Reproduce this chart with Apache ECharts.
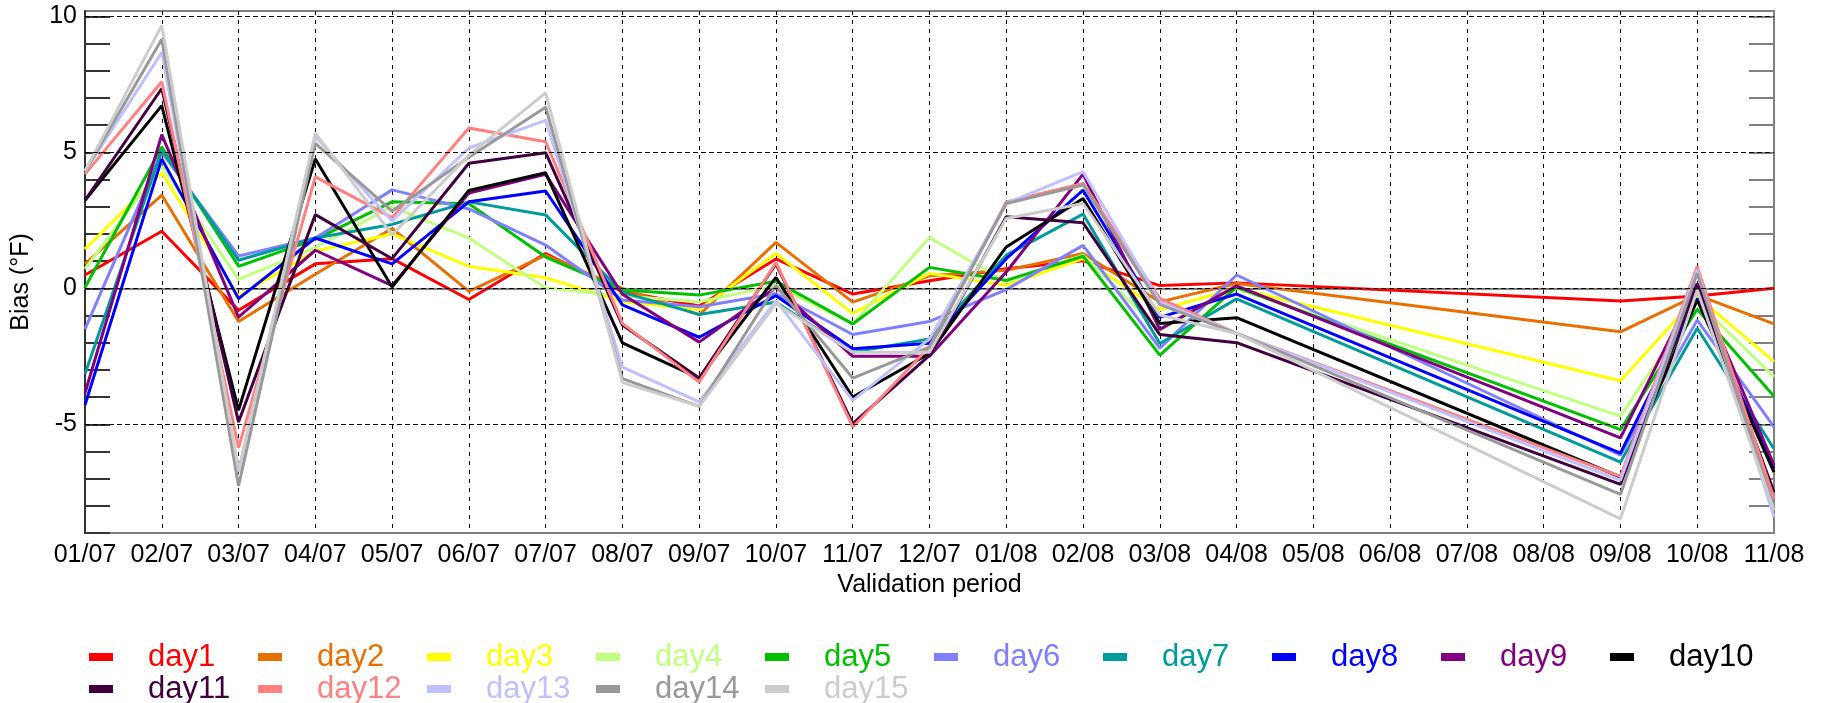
<!DOCTYPE html>
<html>
<head>
<meta charset="utf-8">
<script src="https://cdn.jsdelivr.net/npm/echarts@6/dist/echarts.min.js"></script>
<style>
html,body{margin:0;padding:0;background:#fff;}
#chart{width:1828px;height:703px;}
</style>
</head>
<body>
<div id="chart"></div>
<script>
const categories = ['01/07','02/07','03/07','04/07','05/07','06/07','07/07','08/07','09/07','10/07','11/07','12/07',
  '01/08','02/08','03/08','04/08','05/08','06/08','07/08','08/08','09/08','10/08','11/08'];
const seriesNames = ['day1','day2','day3','day4','day5','day6','day7','day8','day9','day10','day11','day12','day13','day14','day15'];
const seriesColors = ['#ff0000','#e87000','#ffff00','#c0ff80','#00c000','#8080ff','#009b9b','#0000ff','#800080','#000000','#400040','#ff8080','#c0c0ff','#999999','#cccccc'];
const n = null;
const day1  = [0.49, 2.10, -0.81, 0.90, 1.09, -0.41, 1.28, -0.12, -0.65, 1.08, -0.21, 0.28, 0.72, 1.01, 0.10, 0.20, n, n, n, n, -0.47, -0.28, 0.00];
const day2  = [0.90, 3.43, -1.22, 0.52, 2.20, -0.11, 1.22, 0.00, -0.98, 1.69, -0.51, 0.46, 0.66, 1.28, -0.50, 0.18, n, n, n, n, -1.60, -0.25, -1.31];
const day3  = [1.44, 4.25, -0.28, 1.37, 2.00, 0.81, 0.39, -0.49, -0.78, 1.28, -0.92, 0.55, 0.11, 1.09, -0.79, 0.00, n, n, n, n, -3.40, -0.30, -2.70];
const day4  = [0.71, 4.50, 0.33, 1.50, 3.00, 1.85, 0.01, -0.27, -0.50, 0.10, -1.31, 1.87, 0.23, 1.22, -1.55, 0.00, n, n, n, n, -4.70, -0.50, -3.26];
const day5  = [0.03, 5.20, 0.81, 1.80, 3.18, 3.11, 1.15, -0.06, -0.25, 0.26, -1.31, 0.77, 0.29, 1.18, -2.46, 0.04, n, n, n, n, -5.20, -0.77, -3.97];
const day6  = [-1.50, 5.00, 1.19, 1.85, 3.62, 2.92, 1.59, -0.43, -0.68, -0.20, -1.70, -1.22, -0.05, 1.58, -2.20, 0.49, n, n, n, n, -6.14, -1.17, -5.10];
const day7  = [-3.15, 5.08, 1.03, 1.85, 2.35, 3.18, 2.70, -0.15, -0.96, -0.51, -2.35, -1.86, 1.22, 2.73, -2.03, -0.39, n, n, n, n, -6.39, -1.47, -5.90];
const day8  = [-4.29, 4.76, -0.38, 1.85, 0.90, 3.18, 3.58, -0.61, -1.80, -0.27, -2.22, -2.02, 1.09, 3.61, -1.07, -0.21, n, n, n, n, -6.06, -0.37, -6.63];
const day9  = [-3.85, 5.65, -1.06, 1.40, 0.10, 3.50, 4.19, -0.22, -1.98, 0.04, -2.50, -2.50, 0.60, 4.20, -1.51, 0.09, n, n, n, n, -5.50, 0.18, -6.50];
const day10 = [3.24, 6.72, -4.48, 4.76, 0.05, 3.60, 4.25, -2.01, -3.30, 0.40, -4.00, -2.40, 1.52, 3.30, -1.29, -1.08, n, n, n, n, -6.94, -0.43, -6.76];
const day11 = [3.24, 7.35, -4.92, 2.71, 1.09, 4.60, 4.99, -1.35, -3.30, 0.90, -4.98, -2.47, 2.63, 2.41, -1.70, -2.00, n, n, n, n, -7.21, 0.12, -7.49];
const day12 = [4.20, 7.60, -5.87, 4.10, 2.60, 5.90, 5.39, -1.29, -3.45, 0.95, -5.10, -2.16, 3.18, 3.86, -0.37, -1.66, n, n, n, n, -6.92, 0.80, -7.74];
const day13 = [4.30, 8.68, -6.76, 5.58, 2.48, 5.16, 6.18, -2.90, -4.18, -0.45, -4.12, -1.86, 3.12, 4.29, -0.50, -1.66, n, n, n, n, -7.06, 0.68, -8.42];
const day14 = [4.30, 9.16, -7.27, 5.33, 2.84, 4.82, 6.66, -3.32, -4.34, 0.10, -3.30, -2.16, 3.12, 3.80, -0.60, -1.66, n, n, n, n, -7.58, 0.55, -8.05];
const day15 = [4.32, 9.67, -6.70, 5.71, 1.97, 4.90, 7.19, -3.47, -4.34, -0.57, -2.35, -2.35, 2.57, 3.12, -0.98, -1.66, n, n, n, n, -8.48, -0.06, -8.17];
const seriesData = [day1, day2, day3, day4, day5, day6, day7, day8, day9, day10, day11, day12, day13, day14, day15];
const majorGridValues = [10, 5, 0, -5];
const yMin = -9, yMax = 10.2, yStep = 1;

const FONT = '"Liberation Sans", Arial, Helvetica, sans-serif';
const chart = echarts.init(document.getElementById('chart'), null, {renderer: 'canvas'});

const series = [{
  name: '_grid',
  type: 'line',
  data: categories.map(() => null),
  z: 1,
  silent: true,
  markLine: {
    silent: true,
    symbol: ['none', 'none'],
    label: {show: false},
    lineStyle: {color: '#000', width: 1, type: [5, 3]},
    data: majorGridValues.map(v => ({yAxis: v}))
  }
}];
seriesNames.forEach((nm, i) => {
  series.push({
    name: nm,
    type: 'line',
    data: seriesData[i],
    connectNulls: true,
    showSymbol: false,
    symbol: 'none',
    z: 2,
    lineStyle: {color: seriesColors[i], width: 3},
    itemStyle: {color: seriesColors[i]},
    emphasis: {disabled: true},
    animation: false
  });
});

chart.setOption({
  animation: false,
  backgroundColor: '#fff',
  grid: {left: 85, right: 54, top: 11, bottom: 170, show: true, borderColor: '#808080', borderWidth: 2, backgroundColor: 'transparent'},
  legend: {
    left: 89, top: 641, width: 1700, padding: 0,
    itemWidth: 24, itemHeight: 8, itemGap: 0,
    icon: 'rect',
    selectedMode: false,
    textStyle: {fontFamily: FONT, fontSize: 31, lineHeight: 32, width: 110, padding: [0, 0, 0, 30]},
    data: seriesNames.map((nm, i) => ({name: nm, itemStyle: {color: seriesColors[i]}, textStyle: {color: seriesColors[i]}}))
  },
  xAxis: {
    type: 'category',
    data: categories,
    boundaryGap: false,
    name: 'Validation period',
    nameLocation: 'middle',
    nameGap: 40,
    nameTextStyle: {fontFamily: FONT, fontSize: 25, color: '#000'},
    axisLine: {lineStyle: {color: '#808080', width: 2}},
    axisTick: {show: false},
    axisLabel: {fontFamily: FONT, fontSize: 25, color: '#000', margin: 10, interval: 0},
    splitLine: {show: true, lineStyle: {color: '#000', width: 1, type: [4, 5]}}
  },
  yAxis: [{
    type: 'value',
    position: 'left',
    min: yMin, max: yMax, interval: yStep,
    name: 'Bias (°F)',
    nameLocation: 'middle',
    nameGap: 51,
    nameTextStyle: {fontFamily: FONT, fontSize: 25, color: '#000', padding: [0, 20, 0, 0]},
    axisLine: {show: true, lineStyle: {color: '#333', width: 2}},
    axisTick: {show: true, inside: true, length: 25, lineStyle: {color: '#333', width: 2}},
    axisLabel: {fontFamily: FONT, fontSize: 25, color: '#000', margin: 8, showMaxLabel: false,
      formatter: v => (Math.round(v) === v && v % 5 === 0 ? String(v) : '')},
    splitLine: {show: false}
  }, {
    type: 'value',
    position: 'right',
    min: yMin, max: yMax, interval: yStep,
    axisLine: {show: true, lineStyle: {color: '#808080', width: 2}},
    axisTick: {show: true, inside: true, length: 25, lineStyle: {color: '#808080', width: 2}},
    axisLabel: {show: false},
    splitLine: {show: false}
  }],
  series: series
});
</script>
</body>
</html>
